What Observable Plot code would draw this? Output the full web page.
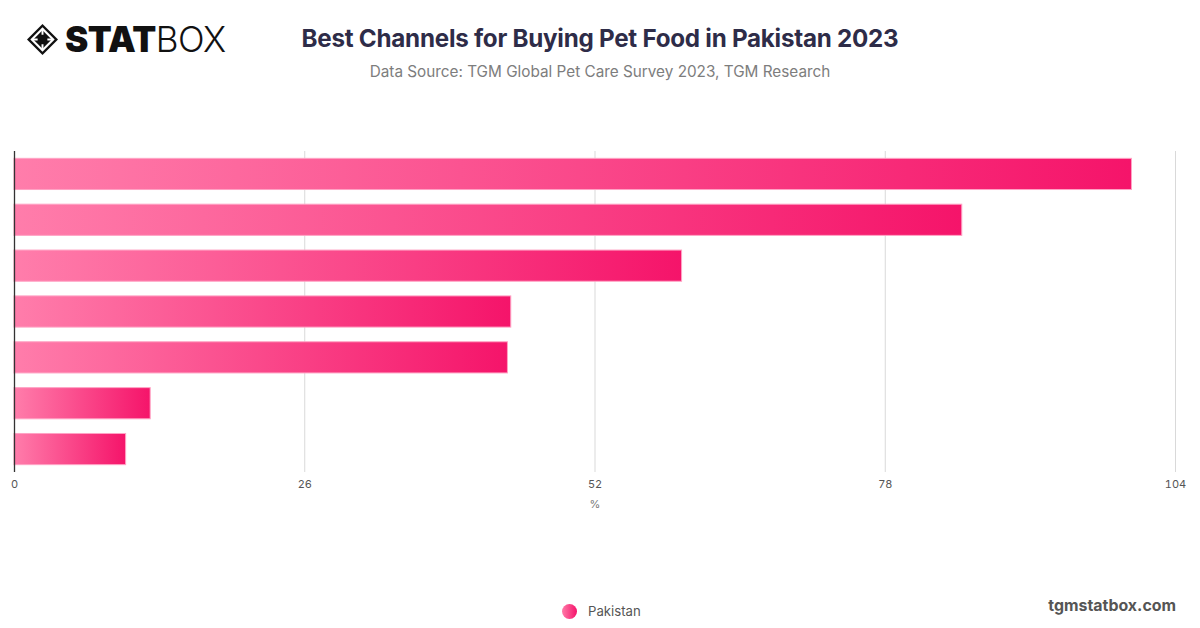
<!DOCTYPE html>
<html>
<head>
<meta charset="utf-8">
<script src="https://cdn.jsdelivr.net/npm/d3@7"></script>
<script src="https://cdn.jsdelivr.net/npm/@observablehq/plot@0.6"></script>
<style>
  html, body { margin: 0; padding: 0; background: #fff; }
  #page { position: relative; width: 1200px; height: 628px; overflow: hidden; font-family: Inter, "Noto Sans", sans-serif; }
  #logo { position: absolute; left: 26px; top: 22px; display: flex; align-items: center; }
  #logo .txt { font-family: Inter, sans-serif; font-size: 35px; line-height: 35px; color: #111; margin-left: 6px; letter-spacing: -0.5px; }
  #logo .b { font-weight: 900; }
  #logo .l { font-weight: 300; }
  #title { position: absolute; left: 0; width: 1200px; top: 24px; text-align: center; font-size: 24.2px; font-weight: 700; color: #2e2c48; letter-spacing: -0.25px; }
  #subtitle { position: absolute; left: 0; width: 1200px; top: 62px; text-align: center; font-size: 15.3px; font-weight: 400; color: #7d7d7d; }
  #chart { position: absolute; left: 0; top: 100px; }
  #legend { position: absolute; left: 562px; top: 603px; display: flex; align-items: center; font-size: 13.2px; color: #555; }
  #legend .dot { width: 15px; height: 15px; border-radius: 50%; background: linear-gradient(90deg, #ff7aa8, #f5136a); margin-right: 11px; }
  #brand { position: absolute; right: 24px; top: 596px; font-size: 15.9px; font-weight: 700; color: #555; }
</style>
</head>
<body>
<div id="page">
  <div id="logo">
    <svg width="33" height="33" viewBox="0 0 34 34">
      <path d="M17 1 L33 17 L17 33 L1 17 Z" fill="#111"/>
      <path d="M17 6 L28 17 L17 28 L6 17 Z" fill="none" stroke="#fff" stroke-width="2.2"/>
      <path d="M17 6 L17 12 M28 17 L22 17 M17 28 L17 22 M6 17 L12 17" stroke="#fff" stroke-width="2"/>
    </svg>
    <span class="txt"><span class="b">STAT</span><span class="l">BOX</span></span>
  </div>
  <div id="title">Best Channels for Buying Pet Food in Pakistan 2023</div>
  <div id="subtitle">Data Source: TGM Global Pet Care Survey 2023, TGM Research</div>
  <div id="chart"></div>
  <div id="legend"><span class="dot"></span><span>Pakistan</span></div>
  <div id="brand">tgmstatbox.com</div>
</div>
<script>
// Channel names are not shown in the reference; placeholder identifiers.
const categories = ["Channel 1", "Channel 2", "Channel 3", "Channel 4", "Channel 5", "Channel 6", "Channel 7"];
const values = [100.1, 84.9, 59.8, 44.5, 44.2, 12.2, 10.0];
const xTicks = [0, 26, 52, 78, 104];
const seriesName = "Pakistan";
const axisLabel = ["%"];

const data = categories.map((c, i) => ({channel: c, value: values[i], series: seriesName}));

const gradientDefs = () => {
  const defs = d3.create("svg:defs");
  const g = defs.append("linearGradient").attr("id", "barGrad").attr("x1", "0").attr("x2", "1").attr("y1", "0").attr("y2", "0");
  g.append("stop").attr("offset", "0%").attr("stop-color", "#ff7dab");
  g.append("stop").attr("offset", "100%").attr("stop-color", "#f5146a");
  return defs.node();
};

const chart = Plot.plot({
  width: 1200,
  height: 440,
  marginLeft: 14,
  marginRight: 25,
  marginTop: 51,
  marginBottom: 68,
  style: {fontFamily: "Inter, 'Noto Sans', sans-serif", fontSize: "11px", color: "#555", background: "transparent"},
  x: {domain: [0, 104], axis: null},
  y: {domain: categories, paddingInner: 0.32, paddingOuter: 0.16, round: false, axis: null},
  marks: [
    gradientDefs,
    Plot.gridX(xTicks.filter(d => d > 0), {stroke: "#d9d9d9", strokeOpacity: 1, strokeWidth: 1}),
    Plot.axisX({ticks: xTicks, tickSize: 0, tickPadding: 8, fontSize: 11, label: null, tickFormat: d => String(d), color: "#555"}),
    Plot.barX(data, {x: "value", y: "channel", fill: "url(#barGrad)", stroke: "#ffa3c4", strokeWidth: 1}),
    Plot.ruleX([0], {stroke: "#333", strokeWidth: 1.3}),
    Plot.text(axisLabel, {text: d => d, frameAnchor: "bottom", dy: 35, fontSize: 11, fill: "#777"})
  ]
});
document.getElementById("chart").appendChild(chart);
</script>
</body>
</html>
